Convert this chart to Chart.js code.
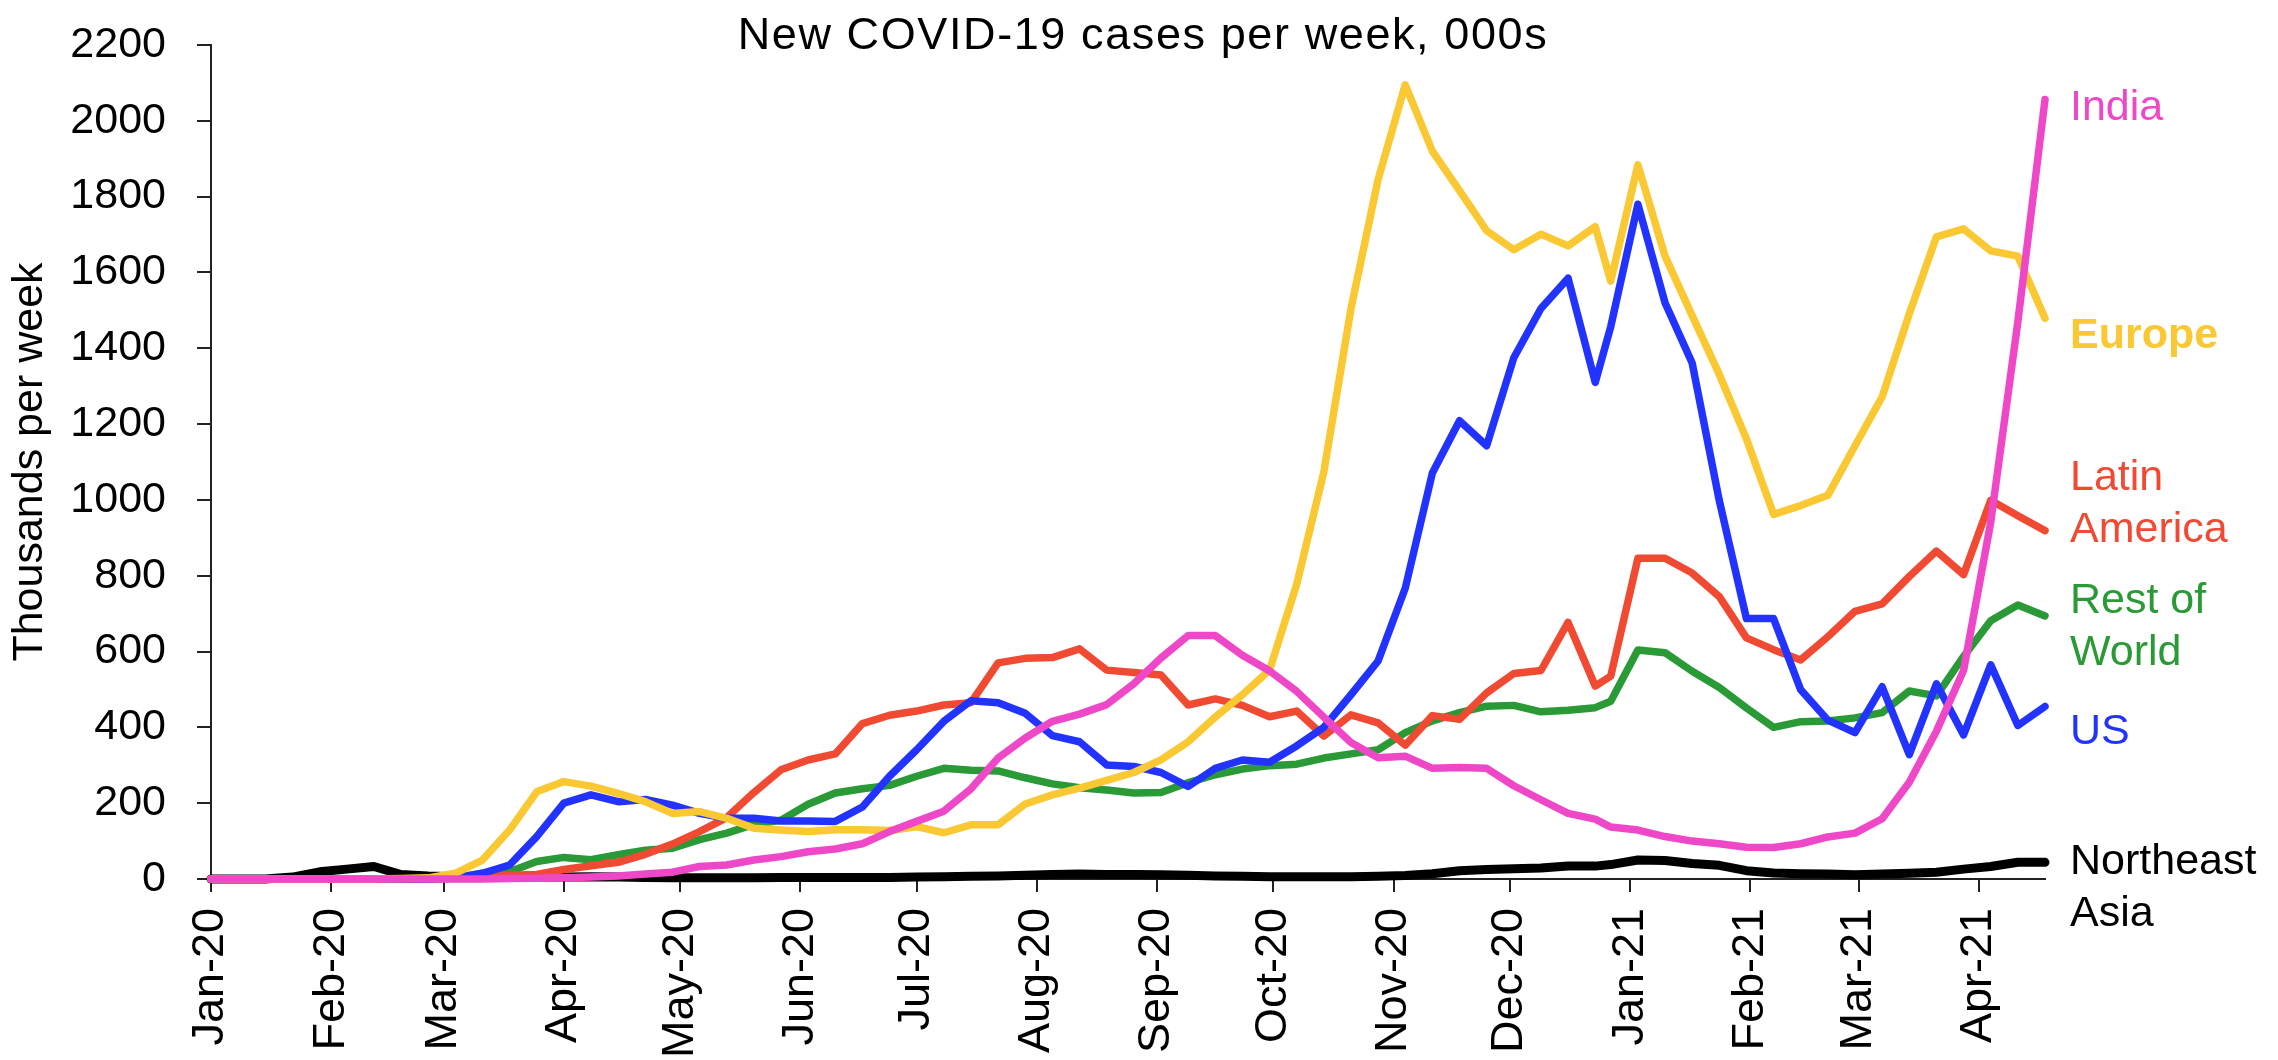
<!DOCTYPE html>
<html>
<head>
<meta charset="utf-8">
<script src="https://cdn.jsdelivr.net/npm/chart.js@4.4.1/dist/chart.umd.min.js"></script>
<style>
  html, body { margin: 0; padding: 0; background: #fff; }
  #wrap { width: 2278px; height: 1060px; position: relative; }
</style>
</head>
<body>
<div id="wrap"><canvas id="lineChart"></canvas></div>
<script>
// Week-ending dates (Wednesdays through Dec 23, then Sunday weeks)
const weekDates = [
  '2020-01-01','2020-01-08','2020-01-15','2020-01-22','2020-01-29',
  '2020-02-05','2020-02-12','2020-02-19','2020-02-26',
  '2020-03-04','2020-03-11','2020-03-18','2020-03-25',
  '2020-04-01','2020-04-08','2020-04-15','2020-04-22','2020-04-29',
  '2020-05-06','2020-05-13','2020-05-20','2020-05-27',
  '2020-06-03','2020-06-10','2020-06-17','2020-06-24',
  '2020-07-01','2020-07-08','2020-07-15','2020-07-22','2020-07-29',
  '2020-08-05','2020-08-12','2020-08-19','2020-08-26',
  '2020-09-02','2020-09-09','2020-09-16','2020-09-23','2020-09-30',
  '2020-10-07','2020-10-14','2020-10-21','2020-10-28',
  '2020-11-04','2020-11-11','2020-11-18','2020-11-25',
  '2020-12-02','2020-12-09','2020-12-16','2020-12-23','2020-12-27',
  '2021-01-03','2021-01-10','2021-01-17','2021-01-24','2021-01-31',
  '2021-02-07','2021-02-14','2021-02-21','2021-02-28',
  '2021-03-07','2021-03-14','2021-03-21','2021-03-28',
  '2021-04-04','2021-04-11','2021-04-18'
];

// Month ticks on the x axis
const monthDates = ['2020-01-01','2020-02-01','2020-03-01','2020-04-01','2020-05-01','2020-06-01',
  '2020-07-01','2020-08-01','2020-09-01','2020-10-01','2020-11-01','2020-12-01',
  '2021-01-01','2021-02-01','2021-03-01','2021-04-01'];
const monthLabels = ['Jan-20','Feb-20','Mar-20','Apr-20','May-20','Jun-20','Jul-20','Aug-20',
  'Sep-20','Oct-20','Nov-20','Dec-20','Jan-21','Feb-21','Mar-21','Apr-21'];

// New cases per week, thousands
const europe = [0,0,0,0,0,0,0,1,3,15,50,129,230,257,245,226,204,173,178,160,134,129,125,130,130,128,138,122,143,143,
  198,222,240,260,281,314,362,427,486,551,777,1073,1504,1845,2095,1920,1816,1710,1660,1701,1670,1721,1577,
  1884,1643,1486,1331,1161,962,985,1012,1143,1272,1491,1694,1715,1657,1643,1479];
const us = [0,0,0,0,0,0,0,0,0,3,15,37,112,200,222,204,210,195,173,160,160,153,153,152,190,271,341,416,470,465,
  437,378,362,301,297,281,244,292,314,308,351,400,486,575,767,1071,1209,1143,1375,1505,1585,1310,1457,
  1780,1520,1361,998,687,687,499,419,386,507,328,515,380,565,405,455];
const latinAmerica = [0,0,0,0,0,0,0,0,0,2,5,10,12,25,35,44,65,92,125,162,228,288,314,330,410,432,443,459,465,570,
  582,584,607,551,545,538,459,475,458,428,443,377,433,412,353,431,421,491,542,550,677,509,535,
  846,846,807,745,636,605,578,639,706,726,798,865,803,999,958,919];
const restOfWorld = [0,0,0,0,0,0,0,0,0,3,15,19,46,57,51,64,76,81,104,121,144,155,197,227,238,247,271,292,287,285,
  267,251,241,235,227,228,254,275,290,299,303,319,330,341,386,417,439,456,458,441,445,452,469,
  604,597,548,505,451,400,415,417,425,439,496,483,587,681,723,694];
const india = [0,0,0,0,0,0,0,0,0,0,0,1,2,3,5,8,13,18,33,37,50,59,72,79,93,125,152,179,238,319,
  372,416,435,460,515,583,642,642,590,549,495,427,360,320,324,292,294,292,246,209,173,158,137,
  129,112,100,93,84,83,93,111,121,159,255,390,550,941,1470,2056];
const northeastAsia = [0,0,0,5,19,26,33,12,8,6,5,5,5,5,6,5,4,3,3,3,3,4,4,4,4,4,5,6,7,8,
  10,12,13,12,12,11,10,8,7,6,6,6,6,7,9,14,22,25,27,29,34,34,38,
  50,49,41,36,22,16,14,13,11,13,15,18,26,33,44,44];

const seriesNames = ['India','Europe','US','Latin America','Rest of World','Northeast Asia'];
const seriesColors = ['#EE48C9','#F9C832','#2233FF','#F04A33','#2A9A36','#000000'];

const font = "'Liberation Sans', Arial, sans-serif";

function toDay(s) {
  const p = s.split('-');
  return (Date.UTC(+p[0], +p[1] - 1, +p[2]) - Date.UTC(2020, 0, 1)) / 86400000;
}
const weekDays = weekDates.map(toDay);
const monthDays = monthDates.map(toDay);

function points(values) {
  return values.map((v, i) => ({ x: weekDays[i], y: v }));
}

const allSeries = [india, europe, us, latinAmerica, restOfWorld, northeastAsia];

const datasets = allSeries.map((vals, i) => ({
  label: seriesNames[i],
  data: points(vals),
  borderColor: seriesColors[i],
  backgroundColor: seriesColors[i],
  borderWidth: i === 5 ? 9 : 7.5,
  pointRadius: 0,
  tension: 0,
  fill: false,
  clip: false,
  borderCapStyle: 'round',
  borderJoinStyle: 'round'
}));

// Title and the series labels on the right are drawn by hand
const textPlugin = {
  id: 'textPlugin',
  afterDraw(chart) {
    const ctx = chart.ctx;
    const yScale = chart.scales.y;
    const area = chart.chartArea;
    ctx.save();
    ctx.fillStyle = '#000';
    ctx.font = '45px ' + font;
    ctx.textAlign = 'center';
    ctx.textBaseline = 'alphabetic';
    ctx.letterSpacing = '1.6px';
    ctx.fillText('New COVID-19 cases per week, 000s', 1143, 49);
    ctx.letterSpacing = '0px';

    // label anchors are baseline values on the y scale
    const labels = [
      { lines: ['India'], color: seriesColors[0], at: 2002, bold: false },
      { lines: ['Europe'], color: seriesColors[1], at: 1400, bold: true },
      { lines: ['Latin', 'America'], color: seriesColors[3], at: 1027, bold: false },
      { lines: ['Rest of', 'World'], color: seriesColors[4], at: 702, bold: false },
      { lines: ['US'], color: seriesColors[2], at: 356, bold: false },
      { lines: ['Northeast', 'Asia'], color: seriesColors[5], at: 13, bold: false }
    ];
    ctx.textAlign = 'left';
    labels.forEach(l => {
      ctx.fillStyle = l.color;
      ctx.font = (l.bold ? 'bold ' : '') + '43px ' + font;
      const y0 = yScale.getPixelForValue(l.at);
      l.lines.forEach((t, k) => ctx.fillText(t, area.right + 25, y0 + k * 52));
    });
    ctx.restore();
  }
};

const ctx = document.getElementById('lineChart').getContext('2d');
const chart = new Chart(ctx, {
  type: 'line',
  data: { datasets: datasets },
  options: {
    responsive: true,
    maintainAspectRatio: false,
    devicePixelRatio: 1,
    animation: false,
    layout: { padding: { top: 45, right: 233, bottom: 0, left: 0 } },
    plugins: {
      legend: { display: false },
      tooltip: { enabled: false },
      title: { display: false }
    },
    scales: {
      x: {
        type: 'linear',
        min: weekDays[0],
        max: weekDays[weekDays.length - 1],
        afterFit(scale) { scale.height = 181; },
        afterBuildTicks(scale) { scale.ticks = monthDays.map(d => ({ value: d })); },
        grid: { drawOnChartArea: false, drawTicks: true, tickLength: 13, color: '#222', lineWidth: 2 },
        border: { display: true, color: '#222', width: 2 },
        ticks: {
          autoSkip: false,
          minRotation: 90,
          maxRotation: 90,
          padding: 16,
          color: '#000',
          font: { family: font, size: 45 },
          callback: (v) => monthLabels[monthDays.indexOf(v)]
        }
      },
      y: {
        min: 0,
        max: 2200,
        afterFit(scale) {
          scale.width = 211;
          // keep the tick padding from pushing the plot area down
          scale.paddingTop = 0;
          scale.paddingBottom = 0;
        },
        grid: { drawOnChartArea: false, drawTicks: true, tickLength: 14, color: '#222', lineWidth: 2 },
        border: { display: true, color: '#222', width: 2 },
        ticks: {
          stepSize: 200,
          padding: 31,
          color: '#000',
          font: { family: font, size: 43 },
          callback: (v) => String(v)
        },
        title: {
          display: true,
          text: 'Thousands per week',
          color: '#000',
          font: { family: font, size: 43 },
          padding: { top: 4, bottom: 0 }
        }
      }
    }
  },
  plugins: [textPlugin]
});
</script>
</body>
</html>
